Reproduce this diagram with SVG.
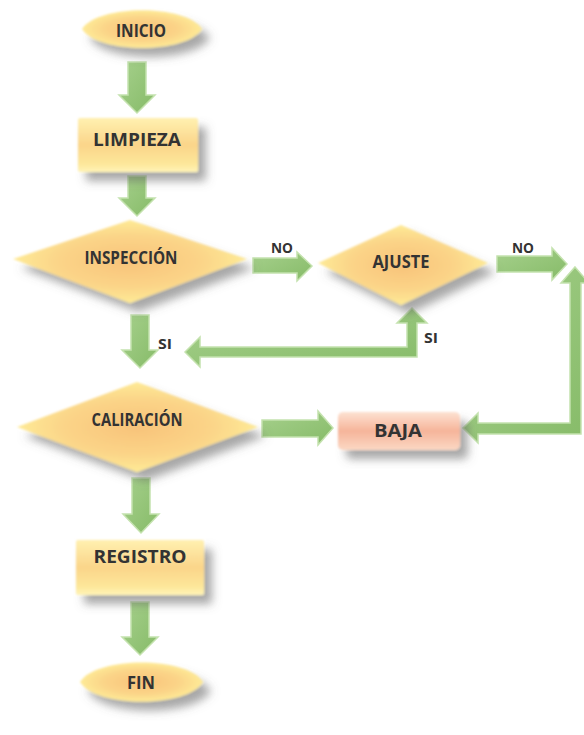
<svg xmlns="http://www.w3.org/2000/svg" width="584" height="735" viewBox="0 0 584 735">
<defs>
  <radialGradient id="gY" cx="50%" cy="50%" r="55%">
    <stop offset="0" stop-color="#f8c37a"/>
    <stop offset="0.55" stop-color="#fbd488"/>
    <stop offset="1" stop-color="#fff09a"/>
  </radialGradient>
  <linearGradient id="gR" x1="0" y1="0" x2="0" y2="1">
    <stop offset="0" stop-color="#fff0b0"/>
    <stop offset="0.5" stop-color="#fbd58a"/>
    <stop offset="0.85" stop-color="#fde79a"/>
    <stop offset="1" stop-color="#fff4b8"/>
  </linearGradient>
  <linearGradient id="gB" x1="0" y1="0" x2="0" y2="1">
    <stop offset="0" stop-color="#fde2d2"/>
    <stop offset="0.5" stop-color="#f6b49a"/>
    <stop offset="1" stop-color="#fbd8c4"/>
  </linearGradient>
  <linearGradient id="gA" x1="0" y1="0" x2="1" y2="1">
    <stop offset="0" stop-color="#a6d08c"/>
    <stop offset="1" stop-color="#86bb68"/>
  </linearGradient>
  <filter id="sh" x="-20%" y="-30%" width="150%" height="180%">
    <feGaussianBlur in="SourceAlpha" stdDeviation="5" result="b"/>
    <feOffset in="b" dx="8" dy="9" result="o"/>
    <feFlood flood-color="#606060" flood-opacity="0.55"/>
    <feComposite in2="o" operator="in" result="s"/>
    <feGaussianBlur in="SourceGraphic" stdDeviation="1.2" result="g"/>
    <feMerge><feMergeNode in="s"/><feMergeNode in="g"/></feMerge>
  </filter>
</defs>
<style>
  .y{fill:url(#gY);filter:url(#sh)}
  .r{fill:url(#gR);filter:url(#sh)}
  .bj{fill:url(#gB);filter:url(#sh)}
  .a{fill:url(#gA);stroke:#c4e2ae;stroke-width:1.5;stroke-linejoin:miter}
  text{font-family:"Open Sans","Liberation Sans",sans-serif;font-weight:bold;fill:#333333;text-anchor:middle;dominant-baseline:central}
  .t{font-size:18px}
  .s{font-size:17px}
  .l{font-size:15px}
</style>
<rect width="584" height="735" fill="#ffffff"/>

<g id="connectors">
  <polygon class="a" points="128,62 146,62 146,95 155,95 137,113 119,95 128,95"/>
  <polygon class="a" points="128,176 146,176 146,198 155,198 137,216 119,198 128,198"/>
  <polygon class="a" points="131,315 149,315 149,350 158,350 140,368 122,350 131,350"/>
  <polygon class="a" points="132,478 150,478 150,514 159,514 141,533 123,514 132,514"/>
  <polygon class="a" points="131,602 149,602 149,637 158,637 140,655 122,637 131,637"/>
  <polygon class="a" points="253,258 297,258 297,252 312,266 297,281 297,273 253,273"/>
  <polygon class="a" points="497,256 552,256 552,248 567,264 552,280 552,272 497,272"/>
  <polygon class="a" points="262,420 318,420 318,411 333,428 318,445 318,437 262,437"/>
  <polygon class="a" points="185,352 200,337 200,347 407,347 407,323 397,323 412,308 427,323 417,323 417,357 200,357 200,367"/>
  <polygon class="a" points="575,267 589,283 581,283 581,434 478,434 478,443 463,428 478,413 478,423 570,423 570,283 561,283"/>
  <text class="l" x="282" y="247" textLength="22" lengthAdjust="spacingAndGlyphs">NO</text>
  <text class="l" x="523" y="247" textLength="22" lengthAdjust="spacingAndGlyphs">NO</text>
  <text class="l" x="165" y="343" textLength="14" lengthAdjust="spacingAndGlyphs">SI</text>
  <text class="l" x="431" y="337" textLength="14" lengthAdjust="spacingAndGlyphs">SI</text>
</g>

<g id="inicio">
  <path class="y" d="M82,29 C98,4 186,4 202,29 C186,54 98,54 82,29 Z"/>
  <text class="t" x="141" y="30" font-size="16" textLength="50" lengthAdjust="spacingAndGlyphs">INICIO</text>
</g>
<g id="limpieza">
  <rect class="r" x="78" y="118" width="120" height="54" rx="2"/>
  <text class="t" x="137" y="139" textLength="88" lengthAdjust="spacingAndGlyphs">LIMPIEZA</text>
</g>
<g id="inspeccion">
  <polygon class="y" points="13,259 130,220 247,259 130,303"/>
  <text class="s" x="131" y="257" textLength="93" lengthAdjust="spacingAndGlyphs">INSPECCIÓN</text>
</g>
<g id="ajuste">
  <polygon class="y" points="318,263 401,225 488,263 401,305"/>
  <text class="s" x="401" y="261" textLength="57" lengthAdjust="spacingAndGlyphs">AJUSTE</text>
</g>
<g id="caliracion">
  <polygon class="y" points="17,427 137,382 258,427 137,472"/>
  <text class="s" x="137" y="419" textLength="91" lengthAdjust="spacingAndGlyphs">CALIRACIÓN</text>
</g>
<g id="baja">
  <rect class="bj" x="338" y="412" width="122" height="38" rx="5"/>
  <text class="t" x="398" y="430" font-size="17" textLength="48" lengthAdjust="spacingAndGlyphs">BAJA</text>
</g>
<g id="registro">
  <rect class="r" x="76" y="540" width="128" height="55" rx="2"/>
  <text class="t" x="140" y="556" textLength="93" lengthAdjust="spacingAndGlyphs">REGISTRO</text>
</g>
<g id="fin">
  <path class="y" d="M80,682 C96,656 187,656 203,682 C187,708 96,708 80,682 Z"/>
  <text class="t" x="141" y="682" font-size="17" textLength="28" lengthAdjust="spacingAndGlyphs">FIN</text>
</g>
</svg>
